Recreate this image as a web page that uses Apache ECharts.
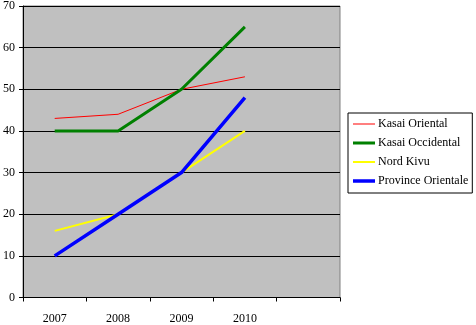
<!DOCTYPE html>
<html><head><meta charset="utf-8">
<script src="https://cdn.jsdelivr.net/npm/echarts@6/dist/echarts.min.js"></script>
<style>html,body{margin:0;padding:0;background:#fff}#c{width:476px;height:325px}</style>
</head><body><div id="c"></div>
<script>
var categories = ['2007', '2008', '2009', '2010', ''];
var seriesNames = ['Kasai Oriental', 'Kasai Occidental', 'Nord Kivu', 'Province Orientale'];
var kasaiOriental = [43, 44, 50, 53];
var kasaiOccidental = [40, 40, 50, 65];
var nordKivu = [16, 20, 30, 40];
var provinceOrientale = [10, 20, 30, 48];
var yTicks = [0, 10, 20, 30, 40, 50, 60, 70];

var font = 'Liberation Serif';
var chart = echarts.init(document.getElementById('c'), null, {renderer: 'canvas'});
function s(name, data, color, width) {
  return {name: name, type: 'line', data: data, symbol: 'none', showSymbol: false,
    lineStyle: {color: color, width: width}, itemStyle: {color: color}, animation: false, z: 3};
}
function lineIcon(w) {
  var y = 7 - w / 2;
  return 'path://M0,0h0.01v0.01h-0.01z M0,13.99h0.01v0.01h-0.01z M0,' + y + 'h22v' + w + 'h-22z';
}
var widths = [1, 3, 2, 3.5];
var colors = ['#FF0000', '#008000', '#FFFF00', '#0000FF'];
chart.setOption({
  animation: false,
  grid: {left: 21, top: 4, right: 136, bottom: 27.5, show: true, backgroundColor: '#C0C0C0', borderColor: '#808080', borderWidth: 1},
  xAxis: {type: 'category', data: categories, boundaryGap: true,
    axisLine: {lineStyle: {color: '#000', width: 1}},
    axisTick: {show: true, length: 4, inside: false, alignWithLabel: false, lineStyle: {color: '#000'}},
    axisLabel: {color: '#000', fontFamily: font, fontSize: 12, margin: 15, interval: 0},
    splitLine: {show: false}},
  yAxis: {type: 'value', min: yTicks[0], max: yTicks[yTicks.length - 1], interval: 10,
    axisLine: {show: true, lineStyle: {color: '#000', width: 1}},
    axisTick: {show: true, length: 4, inside: false, lineStyle: {color: '#000'}},
    axisLabel: {color: '#000', fontFamily: font, fontSize: 12, margin: 8},
    splitLine: {show: true, lineStyle: {color: '#000', width: 1}}},
  legend: {orient: 'vertical', left: 348, top: 113, width: 120,
    padding: [4, 4, 5, 5], itemWidth: 22, itemHeight: 14, itemGap: 5,
    borderColor: '#000', borderWidth: 1, backgroundColor: '#fff',
    textStyle: {fontFamily: font, fontSize: 12, color: '#000', padding: [0, 0, 0, -2], lineHeight: 14},
    data: seriesNames.map(function (n, i) { return {name: n, icon: lineIcon(widths[i]), itemStyle: {color: colors[i]}}; })},
  series: [
    s(seriesNames[0], kasaiOriental, colors[0], widths[0]),
    s(seriesNames[1], kasaiOccidental, colors[1], widths[1]),
    s(seriesNames[2], nordKivu, colors[2], widths[2]),
    s(seriesNames[3], provinceOrientale, colors[3], widths[3])
  ]
});
</script></body></html>
